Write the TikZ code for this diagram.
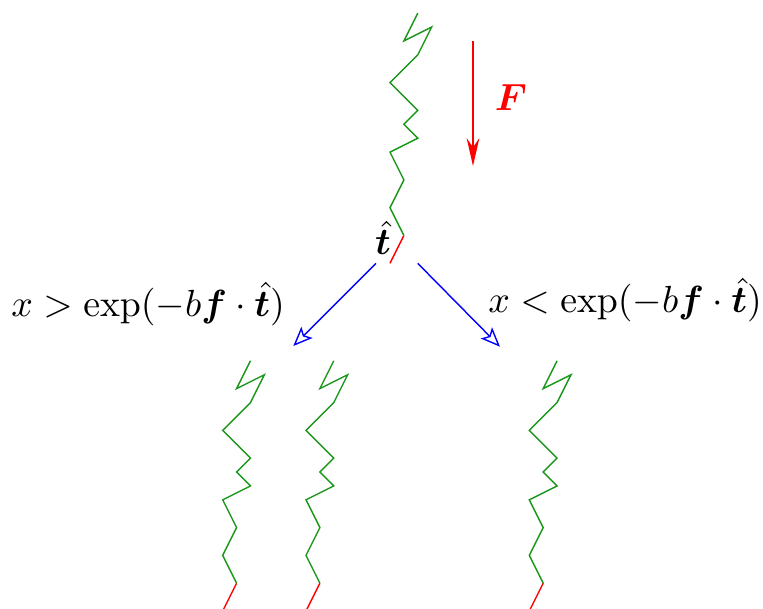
\documentclass[tikz,border=0pt]{standalone}
\usepackage{amsmath,bm,graphicx}
\usetikzlibrary{arrows.meta}
\definecolor{chainGreen}{HTML}{1A961A}
\tikzset{
  force/.style={-{Stealth[length=7.9pt, width=3.6pt]}, red},
  branch/.style={-{Stealth[open, length=5.5pt, width=4.5pt, inset=1.2pt]}, blue},
  lab/.style={inner sep=1pt},
  zigzag/.pic={
    \begin{scope}[xscale=13.9, yscale=-13.9]
      \draw[red] (0,0) -- (1,2);
      \draw[chainGreen] (1,2) -- (0,4) -- (1,6) -- (0,8) -- (2,9) -- (1,10)
        -- (2,11) -- (0,13) -- (2,15) -- (3,17) -- (1,16) -- (2,18);
    \end{scope}
  },
}
\newcommand{\bigger}[1]{\scalebox{1.075}{#1}}
\begin{document}
\begin{tikzpicture}[x=0.01cm, y=-0.01cm]
  \useasboundingbox (0,0) rectangle (763,608);
  % polymer before the split
  \pic at (390,263.3) {zigzag};
  % pulling force
  \coordinate (Ftop) at (473,41);
  \coordinate (Fbot) at (473,166);
  \draw[force] (Ftop) -- (Fbot);
  \node[lab, text=red] (Flab) at (511,98) {\bigger{$\bm{F}$}};
  \node[lab] (tlab) at (383,238) {\bigger{$\hat{\bm{t}}$}};
  % the two outcomes
  \coordinate (Lstart) at (376,263.3);
  \coordinate (Lend) at (293.3,346);
  \coordinate (Rstart) at (417.7,263.3);
  \coordinate (Rend) at (500,346.7);
  \draw[branch] (Lstart) -- (Lend);
  \draw[branch] (Rstart) -- (Rend);
  \node[lab] (Llab) at (148,304) {\bigger{$x > \exp(-b\bm{f}\cdot\hat{\bm{t}})$}};
  \node[lab] (Rlab) at (625,300) {\bigger{$x < \exp(-b\bm{f}\cdot\hat{\bm{t}})$}};
  % polymers after the split
  \pic at (222.7,611) {zigzag};
  \pic at (306,611) {zigzag};
  \pic at (529.3,611) {zigzag};
\end{tikzpicture}
\end{document}
